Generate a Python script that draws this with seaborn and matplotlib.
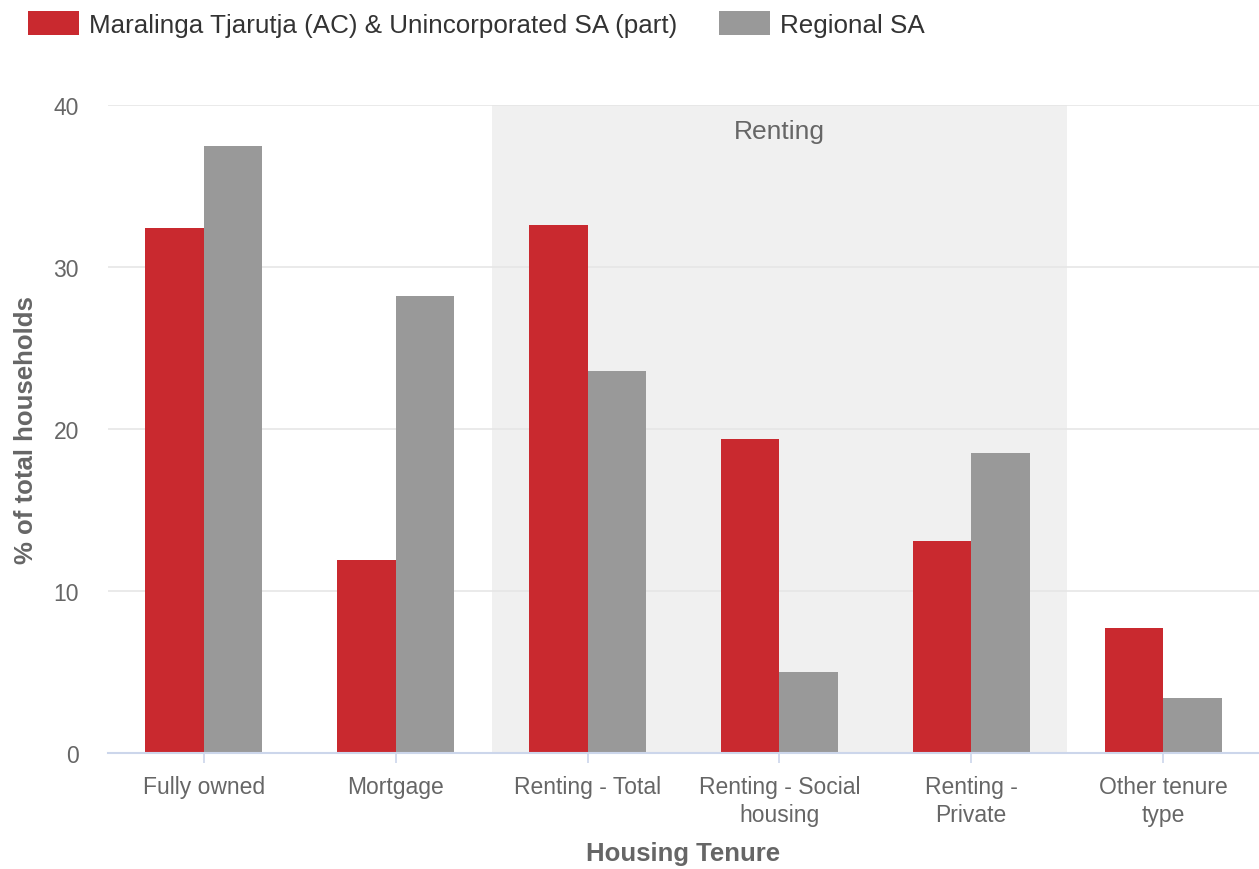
import matplotlib
matplotlib.use("Agg")
import matplotlib.pyplot as plt
import seaborn as sns
import pandas as pd
from matplotlib.patches import Patch

# Housing tenure shares (% of total households)
categories = ["Fully owned", "Mortgage", "Renting - Total",
              "Renting - Social\nhousing", "Renting -\nPrivate", "Other tenure\ntype"]
series_names = ["Maralinga Tjarutja (AC) & Unincorporated SA (part)", "Regional SA"]
maralinga = [32.4, 11.9, 32.6, 19.4, 13.1, 7.7]
regional_sa = [37.5, 28.2, 23.6, 5.0, 18.5, 3.4]
y_ticks = [0, 10, 20, 30, 40]

colors = ["#c9292f", "#999999"]
text_grey = "#666666"

df = pd.DataFrame({
    "tenure": categories * 2,
    "series": [series_names[0]] * len(categories) + [series_names[1]] * len(categories),
    "value": maralinga + regional_sa,
})

sns.set_theme(style="white")
plt.rcParams["font.family"] = ["Liberation Sans", "DejaVu Sans"]

fig = plt.figure(figsize=(12.59, 8.70), dpi=100)
ax = fig.add_axes([108 / 1259, 1 - 754 / 870, 1 - 108 / 1259, (754 - 106) / 870])

sns.barplot(data=df, x="tenure", y="value", hue="series", order=categories,
            hue_order=series_names, palette=colors, width=0.61,
            saturation=1, ax=ax, legend=False, zorder=3, linewidth=0,
            edgecolor="none")

# Renting plot band
ax.axvspan(1.5, 4.5, ymin=0, ymax=1, color="#f0f0f0", zorder=0, lw=0)
ax.text(3, 38.4, "Renting", ha="center", va="center", fontsize=19, color=text_grey)

ax.set_xlim(-0.5, 5.5)
ax.set_ylim(0, 40)
ax.set_yticks(y_ticks)
ax.set_yticklabels([str(t) for t in y_ticks])
ax.yaxis.grid(True, color="#e6e6e6", lw=1.2, zorder=1)
ax.set_axisbelow(False)
for gl in ax.get_ygridlines():
    gl.set_zorder(1)

for side in ["top", "right", "left"]:
    ax.spines[side].set_visible(False)
ax.spines["bottom"].set_color("#ccd6eb")
ax.spines["bottom"].set_linewidth(1.5)
ax.spines["bottom"].set_zorder(4)

ax.tick_params(axis="y", length=0, pad=21, labelsize=16.5, labelcolor=text_grey)
ax.tick_params(axis="x", length=7, width=1.2, color="#ccd6eb", pad=8.5,
               labelsize=16.5, labelcolor=text_grey, bottom=True)
for lbl in ax.get_xticklabels():
    lbl.set_linespacing(1.3)

ax.set_xlabel("Housing Tenure", fontsize=18.5, fontweight="bold", color=text_grey, labelpad=11)
ax.set_ylabel("% of total households", fontsize=18.5, fontweight="bold", color=text_grey, labelpad=11)

handles = [Patch(facecolor=c, edgecolor="none") for c in colors]
fig.legend(handles, series_names, loc="upper left", bbox_to_anchor=(0.004, 1.013),
           ncol=2, frameon=False, fontsize=18.7, handlelength=1.95, handleheight=1.05,
           handletextpad=0.4, columnspacing=1.6, labelcolor="#333333")

fig.savefig("out.png", dpi=100)
